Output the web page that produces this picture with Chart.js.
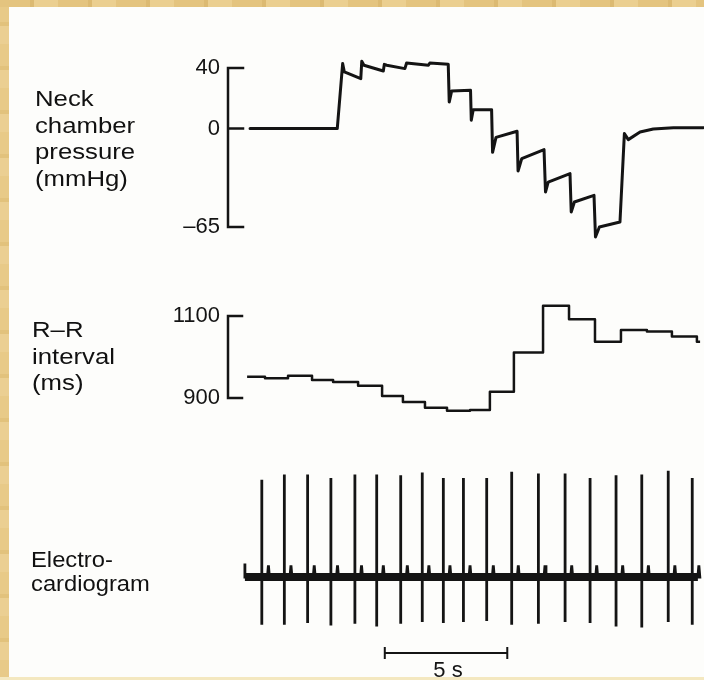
<!DOCTYPE html>
<html>
<head>
<meta charset="utf-8">
<title>Neck chamber pressure, R-R interval and ECG</title>
<script src="https://cdn.jsdelivr.net/npm/chart.js@4.4.0/dist/chart.umd.min.js"></script>
<style>
  html, body { margin: 0; padding: 0; }
  body {
    width: 704px; height: 680px; position: relative; overflow: hidden;
    background: #fdfdfb; color: #111;
    font-family: "Liberation Sans", Arial, sans-serif;
  }
  canvas { position: absolute; left: 0; }
  .label {
    position: absolute; font-size: 22px; line-height: 26.5px;
    transform: scaleX(1.17); transform-origin: left top; white-space: nowrap;
  }
  .frame-left {
    position: absolute; left: 0; top: 0; width: 9px; height: 680px;
    background: repeating-linear-gradient(180deg, #e8ca88 0 22px, #e2c27c 22px 26px, #ebcf92 26px 44px);
  }
  .frame-top {
    position: absolute; left: 0; top: 0; width: 704px; height: 7px;
    background: repeating-linear-gradient(90deg, #e4c47f 0 30px, #dcba72 30px 34px, #ebcf90 34px 58px);
  }
  .frame-bottom {
    position: absolute; left: 0; top: 677px; width: 704px; height: 3px; background: #f4e8c0;
  }
</style>
</head>
<body>
<canvas id="pressureChart" width="704" height="260" style="top:0px"></canvas>
<canvas id="rrChart" width="704" height="160" style="top:270px"></canvas>
<canvas id="ecgChart" width="704" height="240" style="top:440px"></canvas>

<div class="label" style="left:35px; top:86px">Neck<br>chamber<br>pressure<br>(mmHg)</div>
<div class="label" style="left:32px; top:317px">R–R<br>interval<br>(ms)</div>
<div class="label" style="left:31px; top:548px; line-height:24px; transform:scaleX(1.08)">Electro-<br>cardiogram</div>

<div class="frame-left"></div>
<div class="frame-top"></div>
<div class="frame-bottom"></div>

<script>
// time axis (seconds) shared by all three panels
const timeMin = 0;
const timeMax = 19.43;

// neck chamber pressure trace (mmHg)
const pressureTime = [0.90, 4.46, 4.68, 4.75, 5.42, 5.46, 5.55, 6.34, 6.38, 6.48, 7.22, 7.29, 8.18, 8.24,
  8.99, 9.03, 9.13, 9.90, 9.93, 10.01, 10.76, 10.80, 10.94, 11.80, 11.84, 11.99, 12.90, 12.96, 13.07,
  13.96, 14.01, 14.14, 14.94, 15.00, 15.16, 16.00, 16.18, 16.34, 16.82, 17.36, 18.18, 19.40];
const pressureValue = [0, 0, 42.9, 37.4, 33.0, 44.4, 41.8, 38.0, 42.4, 41.8, 39.6, 43.3, 41.8, 43.3,
  42.4, 17.5, 24.8, 25.3, 5.5, 12.5, 12.5, -15.7, -5.8, -1.8, -28.0, -19.8, -13.9, -41.9, -35.3,
  -29.7, -55.1, -48.5, -44.1, -71.6, -65.0, -61.7, -3.3, -7.3, -2.3, -0.3, 0.6, 0.6];
const pressureTicks = [40, 0, -65];

// R-R interval steps (ms), each value holds from its start time
const rrTime = [0.78, 1.51, 2.45, 3.43, 4.29, 5.31, 6.29, 7.14, 8.04, 8.94, 9.88, 10.69, 11.67, 12.86,
  13.92, 14.98, 16.04, 17.10, 18.12, 19.14, 19.27];
const rrValue = [952, 948, 954, 944, 939, 930, 905, 890, 876, 869, 871, 915, 1011, 1125,
  1092, 1037, 1066, 1062, 1050, 1037, 1037];
const rrTicks = [1100, 900];

// electrocardiogram: R-wave times (s) and deflections (arbitrary units)
const ecgStart = 0.69;
const ecgEnd = 19.18;
const beatTimes = [1.38, 2.30, 3.25, 4.20, 5.18, 6.07, 7.05, 7.93, 8.79, 9.61, 10.56, 11.58, 12.67,
  13.76, 14.78, 15.84, 16.89, 17.97, 18.95];
const rPeak = [1.08, 1.14, 1.14, 1.10, 1.14, 1.14, 1.13, 1.16, 1.10, 1.10, 1.10, 1.17, 1.15, 1.15,
  1.10, 1.13, 1.14, 1.18, 1.10];
const sTrough = [-0.53, -0.53, -0.51, -0.54, -0.52, -0.55, -0.52, -0.50, -0.51, -0.50, -0.49, -0.53,
  -0.52, -0.50, -0.51, -0.55, -0.56, -0.50, -0.53];
// small T wave after each beat: delay (s) and height
const tWaveDelay = 0.27;
const tWaveHeight = 0.13;

// scale bar
const scaleBarStart = 6.4;
const scaleBarSeconds = 5;

const ink = '#141414';
const axisLeft = 228;

const bracketPlugin = {
  id: 'bracket',
  afterDraw(chart, args, opts) {
    const y = chart.scales.y;
    const ctx = chart.ctx;
    const x0 = y.right;
    const px = y.ticks.map(t => y.getPixelForValue(t.value));
    ctx.save();
    ctx.strokeStyle = ink;
    ctx.lineWidth = 2.5;
    ctx.lineCap = 'square';
    ctx.beginPath();
    ctx.moveTo(x0, Math.min(...px));
    ctx.lineTo(x0, Math.max(...px));
    px.forEach(p => {
      ctx.moveTo(x0, p);
      ctx.lineTo(x0 + opts.tickLength, p);
    });
    ctx.stroke();
    ctx.restore();
  }
};

const scaleBarPlugin = {
  id: 'scaleBar',
  afterDraw(chart) {
    const xs = chart.scales.x;
    const ctx = chart.ctx;
    const a = xs.getPixelForValue(scaleBarStart);
    const b = xs.getPixelForValue(scaleBarStart + scaleBarSeconds);
    const yb = chart.chartArea.bottom + 13;
    ctx.save();
    ctx.strokeStyle = ink;
    ctx.lineWidth = 2;
    ctx.beginPath();
    ctx.moveTo(a, yb); ctx.lineTo(b, yb);
    ctx.moveTo(a, yb - 6); ctx.lineTo(a, yb + 6);
    ctx.moveTo(b, yb - 6); ctx.lineTo(b, yb + 6);
    ctx.stroke();
    ctx.fillStyle = ink;
    ctx.font = '22px "Liberation Sans", Arial, sans-serif';
    ctx.textAlign = 'center';
    ctx.textBaseline = 'alphabetic';
    ctx.fillText(scaleBarSeconds + ' s', (a + b) / 2 + 2, yb + 24);
    ctx.restore();
  }
};

function xScale() {
  return { type: 'linear', min: timeMin, max: timeMax, display: false };
}

function yScale(min, max, tickValues) {
  return {
    min: min,
    max: max,
    afterFit: s => { s.width = axisLeft; },
    afterBuildTicks: s => { s.ticks = tickValues.map(v => ({ value: v })); },
    grid: { display: false, drawTicks: false },
    border: { display: false },
    ticks: {
      autoSkip: false,
      padding: 8,
      color: ink,
      font: { family: '"Liberation Sans", Arial, sans-serif', size: 22 },
      callback: v => String(v).replace('-', '\u2013')
    }
  };
}

const baseOptions = {
  responsive: false,
  animation: false,
  events: [],
  plugins: { legend: { display: false }, tooltip: { enabled: false } }
};

// pressure panel
new Chart(document.getElementById('pressureChart'), {
  type: 'line',
  data: {
    datasets: [{
      data: pressureTime.map((t, i) => ({ x: t, y: pressureValue[i] })),
      borderColor: ink,
      borderWidth: 3,
      pointRadius: 0,
      tension: 0,
      borderJoinStyle: 'round',
      borderCapStyle: 'round',
      clip: false
    }]
  },
  options: {
    ...baseOptions,
    layout: { padding: { top: 68, bottom: 33, left: 0, right: 0 } },
    scales: { x: xScale(), y: yScale(-65, 40, pressureTicks) },
    plugins: { ...baseOptions.plugins, bracket: { tickLength: 15 } }
  },
  plugins: [bracketPlugin]
});

// R-R interval panel
new Chart(document.getElementById('rrChart'), {
  type: 'line',
  data: {
    datasets: [{
      data: rrTime.map((t, i) => ({ x: t, y: rrValue[i] })),
      borderColor: ink,
      borderWidth: 2.5,
      pointRadius: 0,
      stepped: true,
      borderJoinStyle: 'round',
      clip: false
    }]
  },
  options: {
    ...baseOptions,
    layout: { padding: { top: 46, bottom: 32, left: 0, right: 0 } },
    scales: { x: xScale(), y: yScale(900, 1100, rrTicks) },
    plugins: { ...baseOptions.plugins, bracket: { tickLength: 14 } }
  },
  plugins: [bracketPlugin]
});

// electrocardiogram panel
const ecgTrace = [{ x: ecgStart, y: 0.15 }, { x: ecgStart, y: 0 }];
beatTimes.forEach((t, i) => {
  ecgTrace.push({ x: t, y: 0 }, { x: t, y: rPeak[i] }, { x: t, y: sTrough[i] }, { x: t, y: 0 });
  ecgTrace.push({ x: t + tWaveDelay - 0.04, y: 0 }, { x: t + tWaveDelay, y: tWaveHeight },
    { x: t + tWaveDelay + 0.04, y: 0 });
});
ecgTrace.push({ x: ecgEnd, y: 0 });

new Chart(document.getElementById('ecgChart'), {
  type: 'line',
  data: {
    datasets: [{
      data: [{ x: ecgStart, y: 0 }, { x: ecgEnd, y: 0 }],
      borderColor: ink,
      borderWidth: 8,
      pointRadius: 0,
      clip: false
    }, {
      data: ecgTrace,
      borderColor: ink,
      borderWidth: 2.8,
      pointRadius: 0,
      tension: 0,
      clip: false
    }]
  },
  options: {
    ...baseOptions,
    layout: { padding: { top: 20, bottom: 40, left: axisLeft, right: 0 } },
    scales: {
      x: xScale(),
      y: { min: -0.7, max: 1.3, display: false }
    }
  },
  plugins: [scaleBarPlugin]
});
</script>
</body>
</html>
